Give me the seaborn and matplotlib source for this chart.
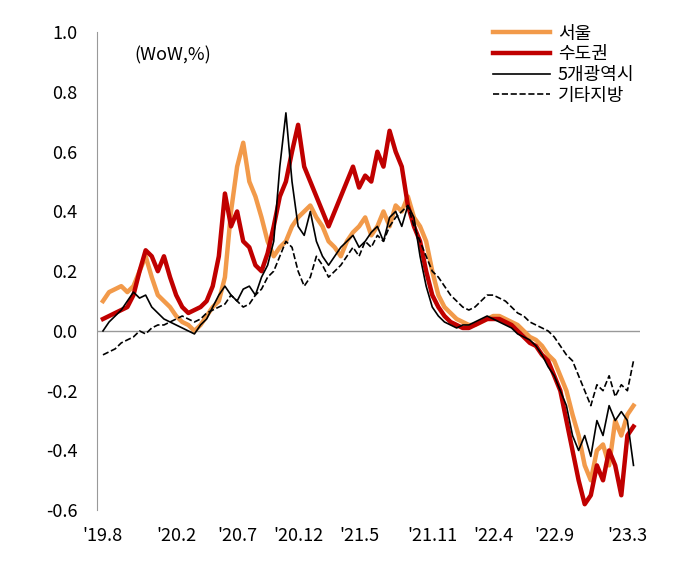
import numpy as np
import pandas as pd
import matplotlib
matplotlib.use("Agg")
import matplotlib.pyplot as plt
import seaborn as sns

plt.rcParams["font.family"] = ["Noto Sans CJK JP", "Noto Sans CJK KR", "DejaVu Sans"]

# half-month points, Aug 2019 .. Mar 2023
seoul = [0.10,0.13,0.14,0.15,0.13,0.15,0.20,0.25,0.18,0.12,0.10,0.08,0.05,0.03,0.02,0.0,0.02,0.05,0.08,0.10,
         0.18,0.40,0.55,0.63,0.50,0.45,0.38,0.30,0.25,0.28,0.30,0.35,0.38,0.40,0.42,0.38,0.35,0.30,0.28,0.25,
         0.30,0.33,0.35,0.38,0.32,0.35,0.40,0.35,0.42,0.40,0.45,0.38,0.35,0.30,0.20,0.12,0.08,0.06,0.04,0.03,
         0.02,0.02,0.03,0.04,0.05,0.05,0.04,0.03,0.02,0.0,-0.02,-0.03,-0.05,-0.08,-0.10,-0.15,-0.20,-0.28,-0.35,-0.45,
         -0.50,-0.40,-0.38,-0.45,-0.30,-0.35,-0.28,-0.25]
capital = [0.04,0.05,0.06,0.07,0.08,0.12,0.20,0.27,0.25,0.20,0.25,0.18,0.12,0.08,0.06,0.07,0.08,0.10,0.15,0.25,
           0.46,0.35,0.40,0.30,0.28,0.22,0.20,0.26,0.35,0.45,0.50,0.60,0.69,0.55,0.50,0.45,0.40,0.35,0.40,0.45,
           0.50,0.55,0.48,0.52,0.50,0.60,0.55,0.67,0.60,0.55,0.42,0.35,0.30,0.20,0.12,0.08,0.05,0.03,0.02,0.01,
           0.01,0.02,0.03,0.04,0.04,0.04,0.03,0.02,0.0,-0.02,-0.04,-0.05,-0.08,-0.10,-0.15,-0.20,-0.30,-0.40,-0.50,-0.58,
           -0.55,-0.45,-0.50,-0.40,-0.45,-0.55,-0.35,-0.32]
metro5 = [0.0,0.03,0.05,0.07,0.10,0.13,0.11,0.12,0.08,0.06,0.04,0.03,0.02,0.01,0.0,-0.01,0.02,0.04,0.08,0.12,
          0.15,0.12,0.10,0.14,0.15,0.12,0.18,0.22,0.30,0.55,0.73,0.50,0.35,0.32,0.40,0.30,0.25,0.22,0.25,0.28,
          0.30,0.32,0.28,0.30,0.33,0.35,0.30,0.38,0.40,0.35,0.42,0.38,0.25,0.15,0.08,0.05,0.03,0.02,0.01,0.02,
          0.02,0.03,0.04,0.05,0.04,0.03,0.02,0.01,-0.01,-0.02,-0.03,-0.05,-0.08,-0.12,-0.15,-0.20,-0.25,-0.35,-0.40,-0.35,
          -0.42,-0.30,-0.35,-0.25,-0.30,-0.27,-0.30,-0.45]
others = [-0.08,-0.07,-0.06,-0.04,-0.03,-0.02,0.0,-0.01,0.01,0.02,0.02,0.03,0.04,0.05,0.04,0.03,0.04,0.06,0.07,0.08,
          0.09,0.12,0.10,0.08,0.09,0.12,0.14,0.18,0.20,0.25,0.30,0.28,0.20,0.15,0.18,0.25,0.22,0.18,0.20,0.22,
          0.25,0.28,0.25,0.30,0.28,0.32,0.30,0.35,0.38,0.40,0.42,0.35,0.30,0.25,0.20,0.18,0.15,0.12,0.10,0.08,
          0.07,0.08,0.10,0.12,0.12,0.11,0.10,0.08,0.06,0.05,0.03,0.02,0.01,0.0,-0.02,-0.05,-0.08,-0.10,-0.15,-0.20,
          -0.25,-0.18,-0.20,-0.15,-0.22,-0.18,-0.20,-0.10]
tick_pos = [0, 12, 22, 32, 42, 54, 64, 74, 86]
tick_labels = ["'19.8", "'20.2", "'20.7", "'20.12", "'21.5", "'21.11", "'22.4", "'22.9", "'23.3"]

x = np.arange(len(seoul))
fig = plt.figure(figsize=(6.87, 5.65), dpi=100)
ax = fig.add_axes([0.141, 0.097, 0.79, 0.846])

sns.lineplot(x=x, y=seoul, ax=ax, color="#F29A4A", lw=3.2, label="서울")
sns.lineplot(x=x, y=capital, ax=ax, color="#C00000", lw=3.2, label="수도권")
sns.lineplot(x=x, y=metro5, ax=ax, color="black", lw=1.2, label="5개광역시")
sns.lineplot(x=x, y=others, ax=ax, color="black", lw=1.2, ls="--", label="기타지방")
ax.axhline(0, color="#999999", lw=1, zorder=0)

ax.set_ylim(-0.6, 1.0)
ax.set_xlim(-1, 88)
ax.set_yticks(np.arange(-0.6, 1.01, 0.2))
ax.set_yticklabels([f"{v:.1f}" for v in np.arange(-0.6, 1.01, 0.2)], fontsize=13)
ax.set_xticks(tick_pos)
ax.set_xticklabels(tick_labels, fontsize=13)
ax.tick_params(axis="x", length=0, pad=12)
ax.tick_params(axis="y", length=0, pad=14)
for s in ["top", "right", "bottom"]:
    ax.spines[s].set_visible(False)
ax.spines["left"].set_color("#999999")
ax.text(0.07, 0.94, "(WoW,%)", transform=ax.transAxes, fontsize=13)
ax.legend(loc="upper right", bbox_to_anchor=(1.02, 1.05), frameon=False, fontsize=13,
          handlelength=3.2, labelspacing=0.15, handletextpad=0.4)

fig.savefig("out.png", dpi=100)
